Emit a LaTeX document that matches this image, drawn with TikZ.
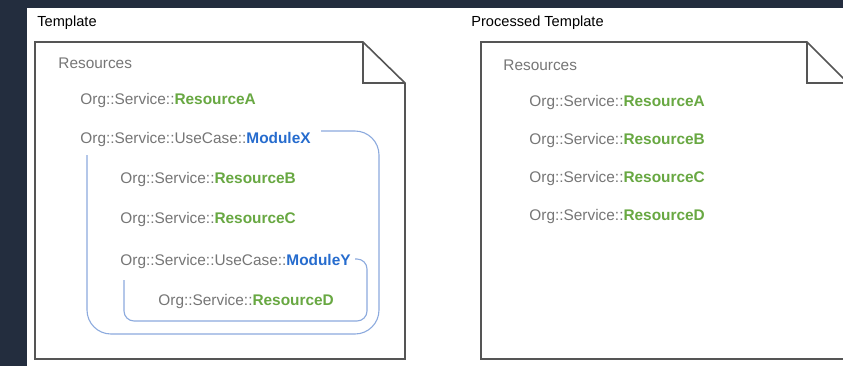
\documentclass[tikz,border=0pt]{standalone}
\usepackage{fontspec}
\setmainfont{Liberation Sans}
\usepackage{xcolor}
\usepackage{tikz}
\usetikzlibrary{positioning}
\definecolor{mybg}{RGB}{35,45,62}
\definecolor{mygrey}{RGB}{118,118,118}
\definecolor{mygreen}{RGB}{104,168,66}
\definecolor{myblue}{RGB}{38,108,206}
\definecolor{mylight}{RGB}{140,170,222}
\definecolor{myline}{RGB}{85,85,85}
\tikzset{
  doc/.style={draw=myline, fill=white, line width=0.8pt, line join=miter},
  fold/.style={draw=myline, line width=0.8pt},
  doctitle/.style={anchor=west, inner sep=0pt, text=black,
    font=\fontsize{7.3}{9}\selectfont},
  item/.style={anchor=west, inner sep=0pt, text=mygrey,
    font=\fontsize{7.7}{9}\selectfont},
  group/.style={draw=mylight, line width=0.55pt}
}
\newcommand{\res}[1]{\textcolor{mygreen}{\textbf{#1}}}
\newcommand{\modl}[1]{\textcolor{myblue}{\textbf{#1}}}

\begin{document}
\begin{tikzpicture}[x=0.5pt, y=-0.5pt]
  \clip (0,0) rectangle (843,366);
  \useasboundingbox (0,0) rectangle (843,366);
  \fill[mybg] (0,0) rectangle (843,366);
  \fill[white] (27,8) rectangle (843,366);

  % Template
  \node[doctitle] (tpl) at (37,23) {Template};
  \draw[doc] (35,42) -- (363,42) -- (405,83) -- (405,359) -- (35,359) -- cycle;
  \draw[fold] (363,42) |- (405,83);
  \node[item] (res) at (58,63) {Resources};
  \node[item, below=19pt of res.west, anchor=west, xshift=11pt] (resA) {Org::Service::\res{ResourceA}};
  \node[item, below=19.5pt of resA.west, anchor=west] (modX) {Org::Service::UseCase::\modl{ModuleX}};
  \node[item, below=20pt of modX.west, anchor=west, xshift=20pt] (resB) {Org::Service::\res{ResourceB}};
  \node[item, below=20pt of resB.west, anchor=west] (resC) {Org::Service::\res{ResourceC}};
  \node[item, below=21pt of resC.west, anchor=west] (modY) {Org::Service::UseCase::\modl{ModuleY}};
  \node[item, below=20pt of modY.west, anchor=west, xshift=19pt] (resD) {Org::Service::\res{ResourceD}};
  \draw[group, rounded corners=12pt] (321,131) -| (379,334) -| (87,155);
  \draw[group, rounded corners=5pt] (355,259) -| (367,321) -| (124,280);

  % Processed Template
  \node[doctitle] (ptpl) at (471,23) {Processed Template};
  \draw[doc] (481,42) -- (807,42) -- (850,85) -- (850,359) -- (481,359) -- cycle;
  \draw[fold] (807,42) |- (850,83);
  \node[item] (pres) at (503,65) {Resources};
  \node[item, below=19pt of pres.west, anchor=west, xshift=13pt] (presA) {Org::Service::\res{ResourceA}};
  \node[item, below=19pt of presA.west, anchor=west] (presB) {Org::Service::\res{ResourceB}};
  \node[item, below=19pt of presB.west, anchor=west] (presC) {Org::Service::\res{ResourceC}};
  \node[item, below=19pt of presC.west, anchor=west] (presD) {Org::Service::\res{ResourceD}};
\end{tikzpicture}
\end{document}
